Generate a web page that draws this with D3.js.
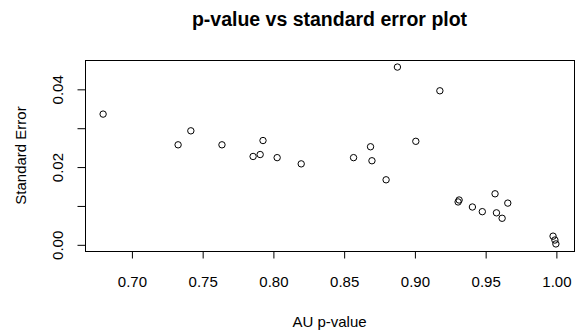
<!DOCTYPE html>
<html>
<head>
<meta charset="utf-8">
<script src="https://cdn.jsdelivr.net/npm/d3@7"></script>
<style>
  body { margin: 0; background: #fff; }
  text { font-family: "Liberation Sans", Arial, sans-serif; fill: #000; }
</style>
</head>
<body>
<div id="chart"></div>
<script>
// AU p-value (x) and standard error (y)
const auValues = [0.680, 0.733, 0.742, 0.764, 0.786, 0.791, 0.793, 0.803, 0.820,
  0.857, 0.869, 0.870, 0.880, 0.888, 0.901, 0.918, 0.9316, 0.9309, 0.941, 0.948,
  0.957, 0.958, 0.962, 0.966, 0.998, 0.9993, 1.000];
const seValues = [0.0335, 0.0256, 0.0292, 0.0256, 0.0226, 0.0231, 0.0267, 0.0223, 0.0207,
  0.0223, 0.0251, 0.0215, 0.0166, 0.0456, 0.0265, 0.0395, 0.0114, 0.0109, 0.0096, 0.0084,
  0.0130, 0.0081, 0.0067, 0.0106, 0.0021, 0.0011, 0.0001];
const xTicks = [0.70, 0.75, 0.80, 0.85, 0.90, 0.95, 1.00];
const yTicks = [0.00, 0.01, 0.02, 0.03, 0.04];
const yLabelled = [0.00, 0.02, 0.04];

const width = 580, height = 333;
const box = { left: 85, right: 574, top: 60, bottom: 251 };

const svg = d3.select("#chart").append("svg")
    .attr("width", width)
    .attr("height", height);

// R style: data range padded by 4% on each side
function padded(vals) {
    const [lo, hi] = d3.extent(vals);
    const d = (hi - lo) * 0.04;
    return [lo - d, hi + d];
}

const x = d3.scaleLinear().domain(padded(auValues)).range([box.left, box.right]);
const y = d3.scaleLinear().domain(padded(seValues)).range([box.bottom, box.top]);

// plot box
svg.append("rect")
    .attr("x", box.left + 0.5)
    .attr("y", box.top + 0.5)
    .attr("width", box.right - box.left)
    .attr("height", box.bottom - box.top)
    .attr("fill", "none")
    .attr("stroke", "#000")
    .attr("stroke-width", 1);

// x axis
const xAxis = svg.append("g")
    .attr("transform", `translate(0.5,${box.bottom + 0.5})`)
    .call(d3.axisBottom(x).tickValues(xTicks).tickFormat(d3.format(".2f"))
        .tickSize(7).tickSizeOuter(0).tickPadding(18));
xAxis.select(".domain").remove();
xAxis.append("line")
    .attr("x1", x(xTicks[0])).attr("x2", x(xTicks[xTicks.length - 1]))
    .attr("stroke", "#000");
xAxis.selectAll("text").style("font-size", "15px").style("font-family", null);

// y axis
const yAxis = svg.append("g")
    .attr("transform", `translate(${box.left + 0.5},0.5)`)
    .call(d3.axisLeft(y).tickValues(yTicks)
        .tickFormat(d => yLabelled.includes(d) ? d3.format(".2f")(d) : "")
        .tickSize(8).tickSizeOuter(0));
yAxis.select(".domain").remove();
yAxis.append("line")
    .attr("y1", y(yTicks[0])).attr("y2", y(yTicks[yTicks.length - 1]))
    .attr("stroke", "#000");
yAxis.selectAll(".tick text")
    .attr("x", null).attr("dy", null)
    .attr("text-anchor", "middle")
    .attr("transform", "translate(-28,0) rotate(-90)")
    .attr("dy", "0.35em")
    .style("font-size", "15px").style("font-family", null);
svg.selectAll(".tick line").attr("stroke", "#000");

// points
svg.append("g").selectAll("circle")
    .data(auValues.map((v, i) => [v, seValues[i]]))
    .join("circle")
    .attr("cx", d => x(d[0]))
    .attr("cy", d => y(d[1]))
    .attr("r", 3.2)
    .attr("fill", "none")
    .attr("stroke", "#000")
    .attr("stroke-width", 1);

// titles
const midX = (box.left + box.right) / 2;
svg.append("text")
    .attr("x", midX).attr("y", 26)
    .attr("text-anchor", "middle")
    .style("font-size", "19.5px").style("font-weight", "bold")
    .text("p-value vs standard error plot");

svg.append("text")
    .attr("x", midX).attr("y", 327)
    .attr("text-anchor", "middle")
    .style("font-size", "15px")
    .text("AU p-value");

svg.append("text")
    .attr("transform", `translate(26,${(box.top + box.bottom) / 2}) rotate(-90)`)
    .attr("text-anchor", "middle")
    .style("font-size", "15px")
    .text("Standard Error");
</script>
</body>
</html>
